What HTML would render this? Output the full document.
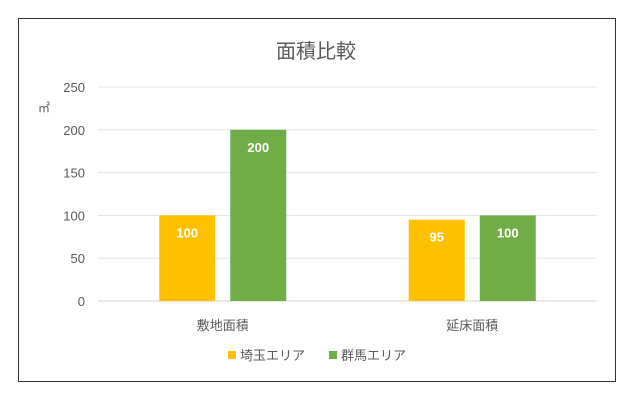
<!DOCTYPE html>
<html><head><meta charset="utf-8"><style>
body{margin:0;background:#fff;width:633px;height:400px;overflow:hidden;font-family:"Liberation Sans","Noto Sans CJK JP",sans-serif}
</style></head><body>
<svg width="633" height="400">
<rect x="18.5" y="18.5" width="597" height="363" fill="#fff" stroke="#333"/>
<text x="316" y="58" text-anchor="middle" font-size="20" fill="#595959" font-family="Liberation Sans,Noto Sans CJK JP,sans-serif">面積比較</text>
<text x="38" y="112" font-size="12" fill="#595959" font-family="Liberation Sans,Noto Sans CJK JP,sans-serif">㎡</text>
<g id="grid"></g><g id="bars"></g><g id="labels"></g>
<g>
<rect x="228" y="351" width="8" height="8" fill="#FFC000"/>
<text x="240" y="360" font-size="13" fill="#595959">埼玉エリア</text>
<rect x="329" y="351" width="8" height="8" fill="#70AD47"/>
<text x="341" y="360" font-size="13" fill="#595959">群馬エリア</text>
</g>
</svg>
<script>
const categories=["敷地面積","延床面積"];
const saitama=[100,95];
const gunma=[200,100];
const ticks=[0,50,100,150,200,250];
const NS="http://www.w3.org/2000/svg";
const x0=98,x1=597,yb=301,yt=87,ymax=250;
const y=v=>yb-(yb-yt)*v/ymax;
const cw=(x1-x0)/categories.length;
function mk(t,a,p){const e=document.createElementNS(NS,t);for(const k in a)e.setAttribute(k,a[k]);document.getElementById(p).appendChild(e);return e;}
ticks.forEach(t=>{
 const l=mk("line",{x1:x0,x2:x1,y1:y(t),y2:y(t),stroke:t===0?"#d0d0d0":"#e3e3e3","stroke-width":1},"grid");
 
 
 const tx=mk("text",{x:85,y:y(t)+5,"text-anchor":"end","font-size":13,fill:"#595959"},"grid");
 tx.textContent=t;
 
 
});
const bw=56,gap=15;
[[saitama,"#FFC000"],[gunma,"#70AD47"]].forEach(([s,c],si)=>{
 s.forEach((v,i)=>{
  const cx=x0+cw*(i+0.5);
  const bx=cx-(bw*2+gap)/2+si*(bw+gap);
  const r=mk("rect",{x:bx,y:y(v),width:bw,height:yb-y(v),fill:c},"bars");
  
  
  const t=mk("text",{x:bx+bw/2,y:y(v)+22,"text-anchor":"middle","font-size":13,"font-weight":"bold",fill:"#fff"},"labels");
  t.textContent=v;
  
  
 });
});
categories.forEach((c,i)=>{
 const t=mk("text",{x:x0+cw*(i+0.5),y:330,"text-anchor":"middle","font-size":13,fill:"#595959"},"labels");
 t.textContent=c;
 
 
});
</script>
</body></html>
